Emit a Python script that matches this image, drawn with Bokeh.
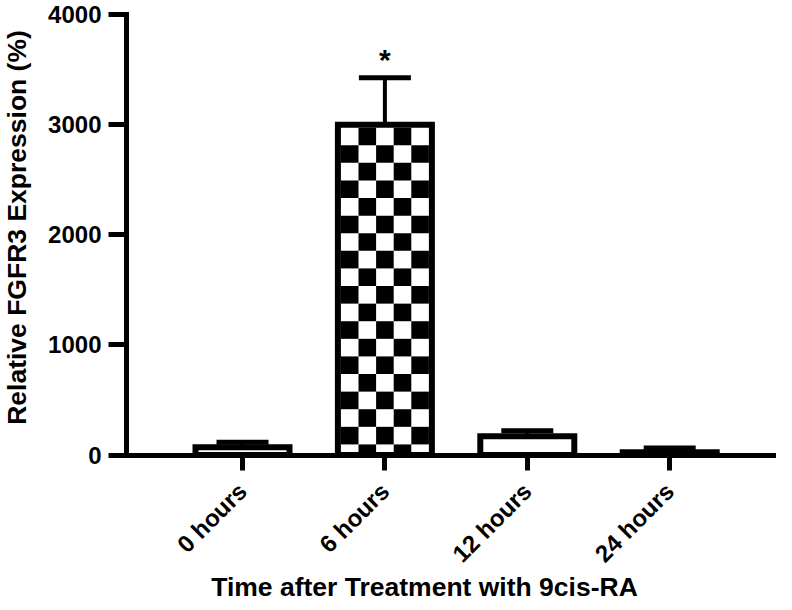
import math
import numpy as np
from bokeh.plotting import figure
from bokeh.models import Range1d, FixedTicker, ColumnDataSource, Label, LinearAxis
from bokeh.embed import file_html
from bokeh.resources import INLINE
from bokeh.core.properties import value

# ---------------- data ----------------
categories = ["0 hours", "6 hours", "12 hours", "24 hours"]
expression = [70, 3000, 170, 25]          # Relative FGFR3 expression (%)
error_up = [45, 425, 50, 38]              # upper error bar
significance = ["", "*", "", ""]
y_ticks = [0, 1000, 2000, 3000, 4000]
x_title = "Time after Treatment with 9cis-RA"
y_title = "Relative FGFR3 Expression (%)"

# ---------------- layout (figure pixels; frame = whole canvas) ----------------
FONT = "Liberation Sans"
W, H = 776, 602
SPACING = 142.4               # px between categories
FIRST_CAT_PX = 242            # x of first category
YAXIS_PX = 126                # x of the y axis line
TOP_PX, ZERO_PX = 14, 454.5   # y of the top tick and of value 0

px_x = SPACING
XL = 1 - FIRST_CAT_PX / px_x
XR = XL + W / px_x
X_AX = XL + YAXIS_PX / px_x
Y1 = max(y_ticks)
px_y = (ZERO_PX - TOP_PX) / Y1
YT = Y1 + TOP_PX / px_y
YB = -(H - ZERO_PX) / px_y


def fx(px):
    return XL + px / px_x


def fy(py):
    return YT - py / px_y


xs = np.arange(1, len(categories) + 1)
BAR_W = 94 / px_x
LW = 6

p = figure(width=W, height=H, output_backend="svg", toolbar_location=None,
           x_range=Range1d(XL, XR), y_range=Range1d(YB, YT),
           x_axis_location=None, y_axis_location=None, min_border=0)
p.outline_line_color = None
p.grid.visible = False
p.background_fill_color = "white"

src = ColumnDataSource(dict(x=xs, top=expression, err=error_up,
                            hi=[t + e for t, e in zip(expression, error_up)],
                            sig=significance))

# error bars (drawn first, bar outline covers the base)
cap_half = 26 / px_x
p.segment(x0="x", y0="top", x1="x", y1="hi", source=src, line_color="black", line_width=4)
p.segment(x0=[x - cap_half for x in xs], y0=src.data["hi"],
          x1=[x + cap_half for x in xs], y1=src.data["hi"], line_color="black", line_width=5)

# white-filled bars
p.vbar(x=xs, width=BAR_W, top=expression, bottom=0, fill_color="white", line_color=None)

# 0 hours: faint dashed hatch
p.vbar(x=[xs[0]], width=BAR_W, top=[expression[0]], bottom=0, fill_alpha=0,
       hatch_pattern="horizontal_dash", hatch_color="#888888", hatch_scale=8,
       hatch_weight=1, line_color=None)

# 6 hours: checkerboard pattern built from the bar geometry
i = 1
inner_half = BAR_W / 2 - (LW / 2) / px_x
ncol = 5
cell_w = 2 * inner_half / ncol
cell_h = (cell_w * px_x) / px_y
top_inner = expression[i] - (LW / 2) / px_y
lefts, rights, tops, bottoms = [], [], [], []
r = 0
while top_inner - r * cell_h > 0:
    t = top_inner - r * cell_h
    b = max(0, t - cell_h)
    for c in range(ncol):
        if (r + c) % 2 == 1:
            l = xs[i] - inner_half + c * cell_w
            lefts.append(l); rights.append(l + cell_w); tops.append(t); bottoms.append(b)
    r += 1
p.quad(left=lefts, right=rights, top=tops, bottom=bottoms, fill_color="black", line_color=None)

# bar outlines
p.vbar(x=xs, width=BAR_W, top=expression, bottom=0, fill_alpha=0,
       line_color="black", line_width=LW, line_join="miter")

# significance marker
p.text(x="x", y="hi", text="sig", source=src, text_font=value(FONT),
       text_font_style="bold", text_font_size="30px", text_align="center",
       text_baseline="alphabetic", y_offset=-18, text_color="black")

# ---------------- axes ----------------
xaxis = LinearAxis(fixed_location=0, bounds=(X_AX, XR))
yaxis = LinearAxis(fixed_location=X_AX, bounds=(0, Y1))
p.add_layout(xaxis, "below")
p.add_layout(yaxis, "left")

for ax in (xaxis, yaxis):
    ax.axis_line_width = 5
    ax.axis_line_color = "black"
    ax.axis_line_cap = "square"
    ax.major_tick_line_width = 5
    ax.major_tick_line_color = "black"
    ax.major_tick_in = 0
    ax.minor_tick_line_color = None
    ax.major_label_text_font = FONT
    ax.major_label_text_font_style = "bold"
    ax.major_label_text_font_size = "24px"
    ax.major_label_text_color = "black"

xaxis.ticker = FixedTicker(ticks=list(xs))
xaxis.major_label_overrides = {int(x): c for x, c in zip(xs, categories)}
xaxis.major_label_orientation = math.pi / 4
xaxis.major_tick_out = 15
xaxis.major_label_standoff = 17

yaxis.ticker = FixedTicker(ticks=y_ticks)
yaxis.major_tick_out = 18
yaxis.major_label_standoff = 7

# axis titles
p.add_layout(Label(x=fx(424), y=fy(586.5), text=x_title,
                   text_font=FONT, text_font_style="bold", text_font_size="26.5px",
                   text_align="center", text_baseline="middle", text_color="black"))
p.add_layout(Label(x=fx(16), y=fy(227), text=y_title, angle=math.pi / 2,
                   text_font=FONT, text_font_style="bold", text_font_size="26.5px",
                   text_align="center", text_baseline="middle", text_color="black"))

open("out.html", "w").write(file_html(p, INLINE))
